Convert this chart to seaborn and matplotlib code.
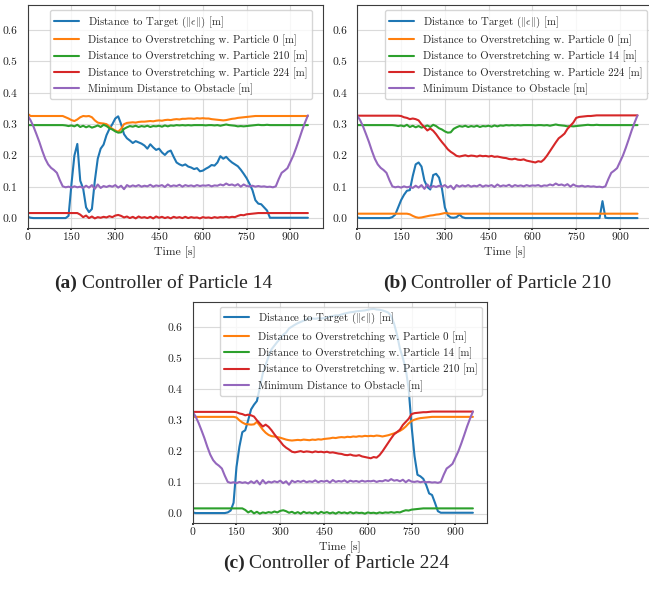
import numpy as np
import pandas as pd
import seaborn as sns
import matplotlib.pyplot as plt

FIG_W, FIG_H = 649, 593
DPI = 100

# time axis [s], one sample every 10 s
time_s = [0, 10, 20, 30, 40, 50, 60, 70, 80, 90,
          100, 110, 120, 130, 140, 150, 160, 170, 180, 190,
          200, 210, 220, 230, 240, 250, 260, 270, 280, 290,
          300, 310, 320, 330, 340, 350, 360, 370, 380, 390,
          400, 410, 420, 430, 440, 450, 460, 470, 480, 490,
          500, 510, 520, 530, 540, 550, 560, 570, 580, 590,
          600, 610, 620, 630, 640, 650, 660, 670, 680, 690,
          700, 710, 720, 730, 740, 750, 760, 770, 780, 790,
          800, 810, 820, 830, 840, 850, 860, 870, 880, 890,
          900, 910, 920, 930, 940, 950, 960]

# minimum distance to obstacle (same in all three panels)
obstacle = [0.327, 0.312, 0.292, 0.268, 0.243, 0.215, 0.190, 0.172, 0.161, 0.154,
            0.145, 0.122, 0.102, 0.099, 0.101, 0.098, 0.102, 0.099, 0.101, 0.097,
            0.104, 0.098, 0.106, 0.094, 0.108, 0.097, 0.103, 0.100, 0.104, 0.101,
            0.106, 0.098, 0.104, 0.093, 0.106, 0.101, 0.105, 0.102, 0.106, 0.101,
            0.104, 0.102, 0.107, 0.101, 0.105, 0.103, 0.106, 0.100, 0.108, 0.102,
            0.105, 0.103, 0.107, 0.101, 0.106, 0.103, 0.105, 0.102, 0.106, 0.103,
            0.105, 0.104, 0.106, 0.102, 0.105, 0.104, 0.108, 0.105, 0.111, 0.106,
            0.108, 0.104, 0.109, 0.101, 0.108, 0.103, 0.102, 0.104, 0.101, 0.103,
            0.101, 0.102, 0.100, 0.101, 0.099, 0.102, 0.125, 0.145, 0.152, 0.160,
            0.180, 0.200, 0.225, 0.252, 0.280, 0.305, 0.328]

# pairwise distances to overstretching
d14_210 = [0.297, 0.297, 0.297, 0.297, 0.297, 0.297, 0.297, 0.297, 0.297, 0.297,
           0.297, 0.297, 0.297, 0.296, 0.294, 0.296, 0.293, 0.298, 0.291, 0.295,
           0.290, 0.294, 0.289, 0.292, 0.296, 0.291, 0.298, 0.294, 0.287, 0.283,
           0.277, 0.273, 0.274, 0.285, 0.290, 0.294, 0.292, 0.295, 0.291, 0.294,
           0.292, 0.295, 0.291, 0.294, 0.293, 0.295, 0.292, 0.296, 0.293, 0.296,
           0.295, 0.297, 0.296, 0.297, 0.296, 0.297, 0.296, 0.297, 0.297, 0.297,
           0.297, 0.296, 0.297, 0.297, 0.296, 0.297, 0.295, 0.297, 0.299, 0.297,
           0.296, 0.295, 0.293, 0.294, 0.293, 0.294, 0.295, 0.296, 0.297, 0.298,
           0.297, 0.297, 0.298, 0.297, 0.297, 0.297, 0.297, 0.297, 0.297, 0.297,
           0.297, 0.297, 0.297, 0.297, 0.297, 0.297, 0.297]

d14_224 = ([0.017] * 18 +
           [0.012, 0.004, 0.009, 0.001, 0.006, 0.000, 0.004, 0.002, 0.005, 0.003,
            0.007, 0.004, 0.009, 0.011, 0.008, 0.003, 0.006, 0.001, 0.005, 0.000,
            0.006, 0.002, 0.004, 0.001, 0.005, 0.000, 0.006, 0.002, 0.005, 0.001,
            0.004, 0.000, 0.005, 0.002, 0.004, 0.001, 0.005, 0.001, 0.004, 0.002,
            0.003, 0.000, 0.004, 0.002, 0.003, 0.001, 0.004, 0.002, 0.004, 0.003,
            0.005, 0.003, 0.005, 0.004, 0.008, 0.011, 0.010, 0.013, 0.014, 0.015,
            0.016, 0.017] +
           [0.017] * 17)

d14_0 = ([0.333] + [0.326] * 12 +
         [0.322, 0.318, 0.313, 0.310, 0.315, 0.322, 0.326, 0.325, 0.326, 0.322,
          0.312, 0.305, 0.303, 0.302, 0.300, 0.292, 0.285, 0.280, 0.276, 0.285,
          0.300, 0.304, 0.305, 0.306, 0.305, 0.307, 0.308, 0.308, 0.309, 0.310,
          0.309, 0.311, 0.312, 0.311, 0.313, 0.314, 0.313, 0.315, 0.316, 0.315,
          0.317, 0.317, 0.318, 0.318, 0.317, 0.319, 0.318, 0.319, 0.318, 0.318,
          0.316, 0.315, 0.314, 0.313, 0.312, 0.313, 0.315, 0.317, 0.318, 0.320,
          0.321, 0.322, 0.323, 0.324, 0.325, 0.326, 0.326] +
         [0.326] * 17)

d210_0 = ([0.015] * 18 +
          [0.013, 0.008, 0.004, 0.002, 0.003, 0.005, 0.007, 0.009, 0.010, 0.012,
           0.013, 0.015, 0.017, 0.016] +
          [0.015] * 65)

d210_224 = ([0.327] * 15 +
            [0.326, 0.322, 0.320, 0.316, 0.318, 0.316, 0.312, 0.300, 0.290, 0.280,
             0.286, 0.279, 0.268, 0.255, 0.243, 0.232, 0.220, 0.212, 0.206, 0.199,
             0.197, 0.199, 0.201, 0.198, 0.200, 0.199, 0.197, 0.200, 0.198, 0.199,
             0.197, 0.199, 0.196, 0.197, 0.195, 0.193, 0.192, 0.189, 0.188, 0.190,
             0.187, 0.186, 0.188, 0.184, 0.182, 0.180, 0.178, 0.182, 0.180, 0.188,
             0.200, 0.214, 0.228, 0.242, 0.255, 0.262, 0.270, 0.285, 0.295, 0.305,
             0.320, 0.323, 0.324, 0.325, 0.326, 0.326, 0.327] +
            [0.328] * 15)

d224_0 = ([0.311] * 15 +
          [0.309, 0.300, 0.293, 0.288, 0.287, 0.286, 0.287, 0.295, 0.283, 0.270,
           0.260, 0.253, 0.249, 0.248, 0.246, 0.244, 0.241, 0.238, 0.236, 0.235,
           0.236, 0.237, 0.236, 0.238, 0.237, 0.236, 0.238, 0.237, 0.239, 0.238,
           0.240, 0.241, 0.242, 0.244, 0.243, 0.245, 0.246, 0.245, 0.247, 0.246,
           0.248, 0.247, 0.249, 0.248, 0.250, 0.249, 0.250, 0.249, 0.251, 0.250,
           0.248, 0.250, 0.252, 0.255, 0.258, 0.262, 0.266, 0.272, 0.280, 0.290,
           0.298, 0.302, 0.305, 0.307, 0.308, 0.309, 0.310] +
          [0.311] * 15)

# distance to target of each controlled particle
target_14 = ([0.005, 0.002] + [0.001] * 12 +
             [0.008, 0.110, 0.200, 0.237, 0.120, 0.095, 0.035, 0.020, 0.030, 0.120,
              0.190, 0.222, 0.235, 0.265, 0.285, 0.300, 0.318, 0.325, 0.300, 0.268,
              0.255, 0.248, 0.240, 0.246, 0.242, 0.238, 0.232, 0.222, 0.236, 0.226,
              0.218, 0.222, 0.210, 0.202, 0.212, 0.216, 0.196, 0.178, 0.172, 0.168,
              0.172, 0.165, 0.162, 0.157, 0.160, 0.150, 0.152, 0.158, 0.163, 0.170,
              0.168, 0.178, 0.198, 0.190, 0.196, 0.186, 0.178, 0.172, 0.166, 0.155,
              0.142, 0.128, 0.110, 0.090, 0.058, 0.047, 0.045, 0.035, 0.025, 0.002] +
             [0.002] * 13)

target_210 = ([0.003] + [0.001] * 11 +
              [0.004, 0.012, 0.035, 0.058, 0.075, 0.088, 0.090, 0.135, 0.172, 0.178,
               0.165, 0.120, 0.100, 0.092, 0.138, 0.142, 0.130, 0.095, 0.035, 0.010,
               0.003, 0.002, 0.004, 0.012, 0.004, 0.001] +
              [0.001] * 46 + [0.055, 0.002] + [0.001] * 11)

target_224 = ([0.004] + [0.002] * 11 +
              [0.004, 0.010, 0.035, 0.150, 0.215, 0.262, 0.268, 0.300, 0.335, 0.350,
               0.362, 0.405, 0.450, 0.478, 0.505, 0.528, 0.540, 0.552, 0.562, 0.575,
               0.582, 0.595, 0.601, 0.607, 0.612, 0.616, 0.620, 0.624, 0.627, 0.627,
               0.626, 0.628, 0.627, 0.628, 0.630, 0.633, 0.635, 0.637, 0.637, 0.640,
               0.643, 0.645, 0.647, 0.648, 0.650, 0.651, 0.652, 0.653, 0.655, 0.657,
               0.658, 0.656, 0.655, 0.653, 0.650, 0.646, 0.635, 0.610, 0.575, 0.530,
               0.500, 0.465, 0.400, 0.280, 0.185, 0.125, 0.120, 0.112, 0.092, 0.065,
               0.060, 0.035, 0.008] +
              [0.003] * 12)

TARGET_LABEL = r"Distance to Target ($\|\epsilon\|$) [m]"
STRETCH_LABEL = "Distance to Overstretching w. Particle {} [m]"
OBSTACLE_LABEL = "Minimum Distance to Obstacle [m]"

# panel: (tag, caption, target, [(partner, series), ...])
PANELS = [
    ("(a)", "Controller of Particle 14", target_14,
     [(0, d14_0), (210, d14_210), (224, d14_224)]),
    ("(b)", "Controller of Particle 210", target_210,
     [(0, d210_0), (14, d14_210), (224, d210_224)]),
    ("(c)", "Controller of Particle 224", target_224,
     [(0, d224_0), (14, d14_224), (210, d210_224)]),
]

# axes boxes in pixels: left, top, width, height
AX_BOXES = [(27.7, 4.5, 294.8, 223.0),
            (357.3, 4.5, 294.8, 223.0),
            (192.7, 301.7, 294.8, 221.0)]
# legend upper-right corners in pixels
LEGEND_CORNERS = [(311.7, 10.0), (646.7, 10.0), (481.7, 306.7)]
# caption centres in pixels
CAPTION_POS = [(163, 283), (497, 283), (336, 563)]


def build_frame(target, partners) -> pd.DataFrame:
    cols = {TARGET_LABEL: target}
    for partner, series in partners:
        cols[STRETCH_LABEL.format(partner)] = series
    cols[OBSTACLE_LABEL] = obstacle
    df = pd.DataFrame(cols)
    df["time"] = time_s
    return df.melt(id_vars="time", var_name="series", value_name="value")


def draw_panel(fig, box, corner, target, partners):
    left, top, width, height = box
    ax = fig.add_axes([left / FIG_W, 1 - (top + height) / FIG_H,
                       width / FIG_W, height / FIG_H])
    df = build_frame(target, partners)
    order = list(dict.fromkeys(df["series"]))
    sns.lineplot(data=df, x="time", y="value", hue="series", hue_order=order,
                 palette=sns.color_palette("tab10", 5), linewidth=1.5, ax=ax)
    ax.set_xlim(0, 1010)
    ax.set_ylim(-0.029, 0.681)
    ax.set_xticks([0, 150, 300, 450, 600, 750, 900])
    ax.set_yticks([0.0, 0.1, 0.2, 0.3, 0.4, 0.5, 0.6])
    ax.set_yticklabels([f"{v:.1f}" for v in ax.get_yticks()])
    ax.set_xlabel("Time [s]", labelpad=3)
    ax.set_ylabel("")
    handles, labels = ax.get_legend_handles_labels()
    ax.legend(handles, labels, loc="upper right",
              bbox_to_anchor=(corner[0] / FIG_W, 1 - corner[1] / FIG_H),
              bbox_transform=fig.transFigure, borderaxespad=0,
              fontsize=7.8, framealpha=0.8, edgecolor="0.8",
              handlelength=2.3, labelspacing=0.45, borderpad=0.4)
    return ax


def add_caption(fig, centre, tag, text):
    renderer = fig.canvas.get_renderer()
    kw = dict(family="Liberation Serif", fontsize=14, va="center", ha="left")
    t1 = fig.text(0, 0, tag, fontweight="bold", **kw)
    t2 = fig.text(0, 0, text, **kw)
    w1 = t1.get_window_extent(renderer).width
    w2 = t2.get_window_extent(renderer).width
    gap = 4.5
    x0 = centre[0] - (w1 + gap + w2) / 2
    y = 1 - centre[1] / FIG_H
    t1.set_position((x0 / FIG_W, y))
    t2.set_position(((x0 + w1 + gap) / FIG_W, y))


def main():
    sns.set_theme(style="whitegrid", rc={
        "axes.edgecolor": "#3c3c3c",
        "axes.linewidth": 0.8,
        "grid.color": "#dadada",
        "grid.linewidth": 0.8,
        "xtick.bottom": True,
        "ytick.left": False,
        "xtick.major.size": 1.5,
        "xtick.major.pad": 0.5,
        "ytick.major.pad": 1.2,
        "xtick.color": "#222222",
        "ytick.color": "#222222",
        "xtick.labelsize": 8.3,
        "ytick.labelsize": 8.3,
        "axes.labelsize": 8.5,
    })
    plt.rcParams["font.family"] = ["cmr10", "DejaVu Serif"]
    plt.rcParams["mathtext.fontset"] = "cm"
    plt.rcParams["axes.formatter.use_mathtext"] = True
    plt.rcParams["axes.unicode_minus"] = False

    fig = plt.figure(figsize=(FIG_W / DPI, FIG_H / DPI), dpi=DPI)
    for (tag, caption, target, partners), box, corner, cpos in zip(
            PANELS, AX_BOXES, LEGEND_CORNERS, CAPTION_POS):
        draw_panel(fig, box, corner, target, partners)
        add_caption(fig, cpos, tag, caption)

    fig.savefig("out.png", dpi=DPI)
    plt.close(fig)


if __name__ == "__main__":
    main()
